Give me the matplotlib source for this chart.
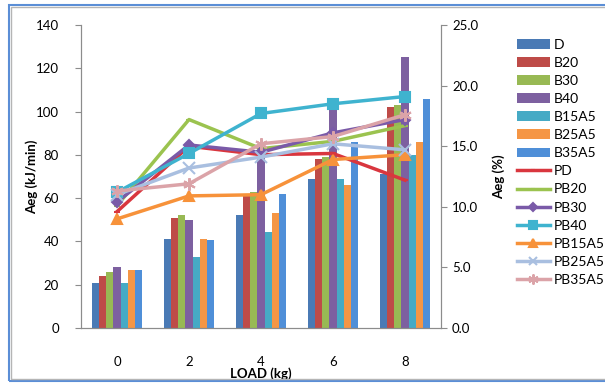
import numpy as np
import matplotlib
matplotlib.use("Agg")
from matplotlib import pyplot as plt
from matplotlib.patches import Rectangle

# Datos
cargas = ['0', '2', '4', '6', '8']

barras = ['D', 'B20', 'B30', 'B40', 'B15A5', 'B25A5', 'B35A5']
D = [21, 41, 52, 69, 71]
B20 = [24, 51, 62, 78, 102]
B30 = [26, 52, 63, 79, 103]
B40 = [28, 50, 80, 103, 125]
B15A5 = [21, 33, 44.5, 69, 80]
B25A5 = [27, 41, 53, 66, 86]
B35A5 = [27, 40.5, 62, 86, 106]

lineas = ['PD', 'PB20', 'PB30', 'PB40', 'PB15A5', 'PB25A5', 'PB35A5']
PD = [9.6, 15.0, 14.3, 14.4, 12.2]
PB20 = [10.1, 17.2, 14.8, 15.4, 16.7]
PB30 = [10.4, 15.1, 14.5, 16.1, 17.2]
PB40 = [11.2, 14.4, 17.7, 18.5, 19.1]
PB15A5 = [9.0, 10.9, 11.0, 13.9, 14.3]
PB25A5 = [11.0, 13.2, 14.1, 15.2, 14.7]
PB35A5 = [11.3, 11.9, 15.2, 15.8, 17.6]

cores_barras = ['#4a7ab5', '#be4b48', '#98b954', '#7d60a0', '#46aac5', '#f59645', '#4f8fd8']
cores_linhas = ['#d9363e', '#9bc34f', '#7a5aa8', '#3fb3cf', '#f7923a', '#a9bfe0', '#dba3a8']
marcadores = ['_', '_', 'D', 's', '^', 'x', (6, 2, 0)]
tam_marc = [4, 4, 5, 7.5, 7, 8, 9]

plt.rcParams['font.family'] = ['Lato', 'DejaVu Sans']

fig = plt.figure(figsize=(6.05, 3.85), dpi=100)

# Moldura
fig.patches.append(Rectangle((9 / 605, 1 - 381 / 385), 1.2, 376 / 385, transform=fig.transFigure,
                             fill=False, edgecolor='#5b8ed6', linewidth=1.5))
fig.patches.append(Rectangle((11 / 605, 1 - 379 / 385), 1.2, 372 / 385, transform=fig.transFigure,
                             fill=False, edgecolor='#b5b5b5', linewidth=1.0))

ax = fig.add_axes([81 / 605, 1 - 328 / 385, 360 / 605, 303 / 385])
ax2 = ax.twinx()

x = np.arange(len(cargas))
largura = 0.1
series_b = [D, B20, B30, B40, B15A5, B25A5, B35A5]
handles = []
for i, (nome, vals) in enumerate(zip(barras, series_b)):
    h = ax.bar(x + (i - 3) * largura, vals, largura, color=cores_barras[i], label=nome, zorder=2)
    handles.append(h)

series_l = [PD, PB20, PB30, PB40, PB15A5, PB25A5, PB35A5]
for i, (nome, vals) in enumerate(zip(lineas, series_l)):
    h, = ax2.plot(x, vals, color=cores_linhas[i], linewidth=2.5, marker=marcadores[i],
                  markersize=tam_marc[i], markeredgewidth=1.5, label=nome, zorder=3)
    handles.append(h)

ax.set_xlim(-0.5, 4.5)
ax.set_ylim(0, 140)
ax.set_yticks(range(0, 141, 20))
ax2.set_ylim(0, 25)
ax2.set_yticks(np.arange(0, 25.1, 5))
ax2.set_yticklabels(['%.1f' % v for v in np.arange(0, 25.1, 5)])
ax.set_xticks(x)
ax.set_xticklabels(cargas)

for a in (ax, ax2):
    a.spines['top'].set_visible(False)
    for s in ('left', 'right', 'bottom'):
        a.spines[s].set_color('#8c8c8c')
    a.tick_params(colors='#8c8c8c', labelcolor='black', labelsize=9.5, length=4)
ax.tick_params(axis='x', length=0, pad=20)
ax.tick_params(axis='y', pad=12)
ax2.tick_params(axis='y', pad=4)
ax.set_zorder(1)
ax2.set_zorder(2)

ax.set_ylabel('Aeg (kJ/min)', fontsize=9.5, fontweight='bold', labelpad=-2)
ax2.set_ylabel('Aeg (%)', fontsize=9.5, fontweight='bold', labelpad=10)
ax.set_xlabel('LOAD (kg)', fontsize=9.5, fontweight='bold', labelpad=0)

fig.legend(handles=handles, loc='upper left', bbox_to_anchor=(511 / 605, 1 - 33 / 385),
           frameon=False, fontsize=10, handlelength=2.4, handletextpad=0.3,
           labelspacing=0.44, borderaxespad=0, markerscale=0.8)

plt.savefig('out.png', dpi=100)
